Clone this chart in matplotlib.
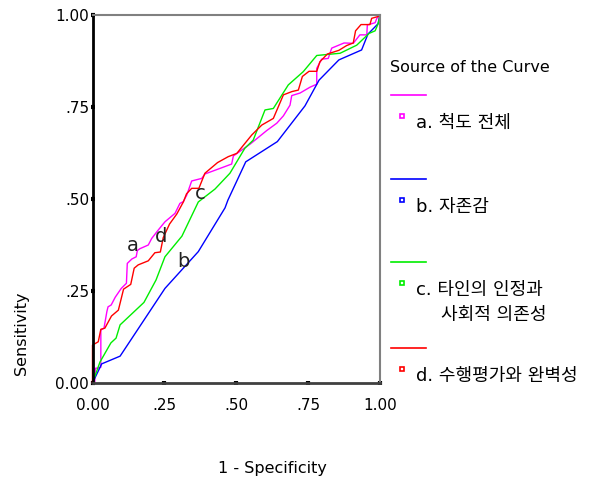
import matplotlib
matplotlib.use("Agg")
import matplotlib.pyplot as plt
from matplotlib.lines import Line2D

plt.rcParams['font.family'] = ['DejaVu Sans', 'Noto Sans CJK KR']

# ROC curve points (1 - specificity, sensitivity)
a_x = [0, 0.008, 0.010, 0.023, 0.029, 0.029, 0.040, 0.050, 0.054, 0.065, 0.079, 0.100,
       0.118, 0.121, 0.137, 0.152, 0.156, 0.165, 0.194, 0.206, 0.229, 0.252, 0.287, 0.304,
       0.316, 0.328, 0.345, 0.380, 0.391, 0.443, 0.484, 0.490, 0.548, 0.606, 0.641, 0.664,
       0.687, 0.693, 0.722, 0.757, 0.780, 0.780, 0.797, 0.820, 0.832, 0.875, 0.907, 0.930,
       0.954, 0.956, 0.983, 0.989, 1.0]
a_y = [0, 0.004, 0.040, 0.041, 0.043, 0.144, 0.149, 0.194, 0.207, 0.212, 0.233, 0.257,
       0.271, 0.325, 0.337, 0.343, 0.360, 0.365, 0.375, 0.393, 0.416, 0.438, 0.461, 0.488,
       0.493, 0.511, 0.549, 0.556, 0.568, 0.583, 0.595, 0.617, 0.649, 0.686, 0.706, 0.726,
       0.755, 0.781, 0.788, 0.804, 0.812, 0.855, 0.880, 0.882, 0.910, 0.924, 0.923, 0.946,
       0.946, 0.973, 0.979, 0.991, 1.0]

b_x = [0, 0.032, 0.096, 0.252, 0.368, 0.461, 0.471, 0.533, 0.643, 0.739, 0.788, 0.857,
       0.936, 0.958, 0.993, 1.0]
b_y = [0, 0.052, 0.073, 0.257, 0.357, 0.476, 0.497, 0.601, 0.656, 0.753, 0.823, 0.878,
       0.905, 0.948, 0.976, 1.0]

c_x = [0, 0.026, 0.064, 0.082, 0.096, 0.179, 0.221, 0.252, 0.311, 0.368, 0.426, 0.478,
       0.530, 0.559, 0.600, 0.629, 0.681, 0.733, 0.780, 0.861, 0.919, 0.962, 0.983, 0.994, 1.0]
c_y = [0, 0.057, 0.109, 0.122, 0.158, 0.219, 0.280, 0.343, 0.399, 0.492, 0.527, 0.570,
       0.638, 0.660, 0.742, 0.746, 0.810, 0.846, 0.890, 0.896, 0.918, 0.950, 0.957, 0.977, 1.0]

d_x = [0, 0, 0.020, 0.029, 0.043, 0.066, 0.090, 0.108, 0.133, 0.145, 0.159, 0.194, 0.217,
       0.236, 0.246, 0.268, 0.293, 0.316, 0.327, 0.345, 0.370, 0.391, 0.435, 0.472, 0.502,
       0.554, 0.589, 0.629, 0.664, 0.694, 0.716, 0.730, 0.753, 0.780, 0.791, 0.817, 0.857,
       0.884, 0.907, 0.915, 0.934, 0.965, 0.971, 0.994, 1.0]
d_y = [0, 0.103, 0.112, 0.146, 0.149, 0.182, 0.198, 0.255, 0.268, 0.312, 0.321, 0.332, 0.354,
       0.356, 0.395, 0.432, 0.459, 0.492, 0.514, 0.529, 0.529, 0.570, 0.599, 0.615, 0.624,
       0.674, 0.701, 0.719, 0.783, 0.792, 0.796, 0.833, 0.847, 0.847, 0.873, 0.894, 0.904,
       0.917, 0.924, 0.957, 0.974, 0.974, 0.991, 0.996, 1.0]

series = [(a_x, a_y, '#ff00ff'), (b_x, b_y, '#0000ff'), (c_x, c_y, '#00ee00'), (d_x, d_y, '#ff0000')]
curve_tags = ['a', 'b', 'c', 'd']
tag_pos = [(0.141, 0.375), (0.315, 0.329), (0.374, 0.514), (0.238, 0.399)]
legend_names = ['a. 척도 전체', 'b. 자존감', 'c. 타인의 인정과', 'd. 수행평가와 완벽성']
legend_extra = '사회적 의존성'
ticks = [0, 0.25, 0.5, 0.75, 1.0]
tick_labels = ['0.00', '.25', '.50', '.75', '1.00']

W, H = 598, 479
fig = plt.figure(figsize=(W / 100, H / 100), dpi=100)
ax = fig.add_axes([92.5 / W, 1 - 383 / H, 287.5 / W, 368 / H])

for (xs, ys, col) in series:
    ax.plot(xs, ys, color=col, lw=1.0, clip_on=False)

for tag, (tx, ty) in zip(curve_tags, tag_pos):
    ax.text(tx, ty, tag, fontsize=14, ha='center', va='center', color='#222222')

ax.set_xlim(0, 1)
ax.set_ylim(0, 1)
ax.set_xticks(ticks)
ax.set_xticklabels(tick_labels)
ax.set_yticks(ticks)
ax.set_yticklabels(tick_labels)
ax.tick_params(direction='inout', length=3, width=3, labelsize=11, colors='black')
ax.tick_params(axis='x', pad=9)
ax.tick_params(axis='y', pad=1)
for s in ['left', 'bottom']:
    ax.spines[s].set_color('black')
    ax.spines[s].set_linewidth(2)
ax.spines['bottom'].set_color('#404040')
for s in ['top', 'right']:
    ax.spines[s].set_color('#808080')
    ax.spines[s].set_linewidth(1.5)

def px(x, y):
    return x / W, 1 - y / H

fig.text(*px(272, 468), '1 - Specificity', fontsize=11.5, ha='center', va='center')
fig.text(*px(22, 333), 'Sensitivity', fontsize=11.5, ha='center', va='center', rotation=90)

# legend drawn by hand
fig.text(*px(390, 68), 'Source of the Curve', fontsize=11.5, ha='left', va='center')
line_y = [95, 179, 262, 348]
for i, ((xs, ys, col), name) in enumerate(zip(series, legend_names)):
    ly = line_y[i]
    x0, y0 = px(391, ly)
    x1, _ = px(426, ly)
    fig.add_artist(Line2D([x0, x1], [y0, y0], color=col, lw=1.2))
    mx, my = px(402, ly + 21)
    fig.add_artist(Line2D([mx], [my], marker='s', ms=3.5, mfc='white', mec=col, mew=1.2))
    fig.text(*px(416, ly + 28), name, fontsize=13, ha='left', va='center')
fig.text(*px(441, 315), legend_extra, fontsize=13, ha='left', va='center')

fig.savefig('out.png', dpi=100)
